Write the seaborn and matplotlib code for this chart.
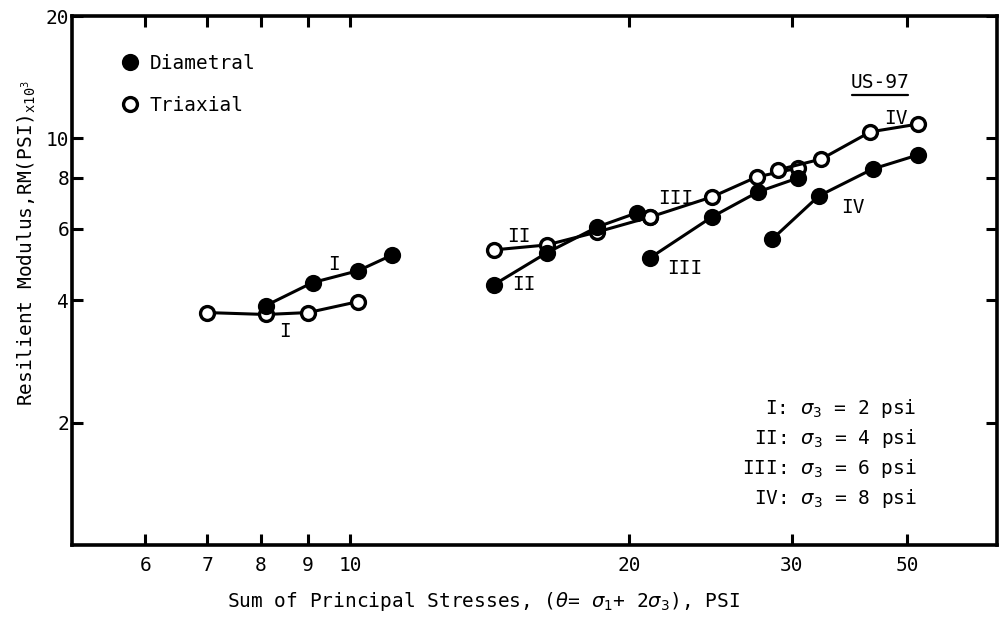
import numpy as np
import pandas as pd
import matplotlib
matplotlib.use("Agg")
import matplotlib.pyplot as plt
from matplotlib.lines import Line2D
from matplotlib.ticker import NullLocator
import seaborn as sns

# ---- data ----
diam_I_x = [8.1, 9.1, 10.2, 11.1]
diam_I_y = [3.88, 4.42, 4.73, 5.17]
tri_I_x = [7.0, 8.1, 9.0, 10.2]
tri_I_y = [3.73, 3.69, 3.73, 3.97]

diam_II_x = [14.3, 16.3, 18.5, 20.4]
diam_II_y = [4.37, 5.23, 6.06, 6.56]
tri_II_x = [14.3, 16.3, 18.5, 21.1]
tri_II_y = [5.32, 5.47, 5.89, 6.41]

diam_III_x = [21.1, 24.6, 27.6, 30.5]
diam_III_y = [5.09, 6.41, 7.39, 8.00]
tri_III_x = [21.1, 24.6, 27.5, 30.5]
tri_III_y = [6.41, 7.18, 8.04, 8.46]

diam_IV_x = [28.6, 32.1, 36.7, 41.1]
diam_IV_y = [5.66, 7.22, 8.41, 9.11]
tri_IV_x = [29.0, 32.3, 36.5, 41.1]
tri_IV_y = [8.37, 8.90, 10.38, 10.85]

x_ticks = [6, 7, 8, 9, 10, 20, 30, 40]
x_tick_labels = ["6", "7", "8", "9", "10", "20", "30", "50"]
y_ticks = [2, 4, 6, 8, 10, 20]
y_tick_labels = ["2", "4", "6", "8", "10", "20"]

curve_labels = ["I", "I", "II", "II", "III", "III", "IV", "IV"]
curve_label_x = [9.6, 8.5, 15.2, 15.4, 22.5, 23.0, 38.9, 34.9]
curve_label_y = [4.89, 3.35, 5.73, 4.37, 7.1, 4.8, 11.2, 6.75]

stress_lines = [r"I: $\sigma_3$ = 2 psi", r"II: $\sigma_3$ = 4 psi",
                r"III: $\sigma_3$ = 6 psi", r"IV: $\sigma_3$ = 8 psi"]

series = [
    ("Diametral", "I", diam_I_x, diam_I_y),
    ("Triaxial", "I", tri_I_x, tri_I_y),
    ("Diametral", "II", diam_II_x, diam_II_y),
    ("Triaxial", "II", tri_II_x, tri_II_y),
    ("Diametral", "III", diam_III_x, diam_III_y),
    ("Triaxial", "III", tri_III_x, tri_III_y),
    ("Diametral", "IV", diam_IV_x, diam_IV_y),
    ("Triaxial", "IV", tri_IV_x, tri_IV_y),
]
rows = []
for kind, grp, xs, ys in series:
    for xv, yv in zip(xs, ys):
        rows.append({"kind": kind, "group": grp, "x": xv, "y": yv})
df = pd.DataFrame(rows)

# ---- style ----
sns.set_theme(style="ticks")
plt.rcParams["font.family"] = ["DejaVu Sans Mono", "DejaVu Sans"]
plt.rcParams["mathtext.fontset"] = "dejavusans"
plt.rcParams["text.color"] = "black"
plt.rcParams["axes.labelcolor"] = "black"
plt.rcParams["xtick.color"] = "black"
plt.rcParams["ytick.color"] = "black"

fig = plt.figure(figsize=(10.03, 6.23), dpi=100)
ax = fig.add_axes([0.0718, 0.1252, 0.922, 0.849])

face = {"Diametral": "black", "Triaxial": "white"}
for (kind, grp), sub in df.groupby(["kind", "group"], sort=False):
    sns.lineplot(data=sub, x="x", y="y", ax=ax, color="black", lw=2.2,
                 marker="o", markersize=10, markerfacecolor=face[kind],
                 markeredgecolor="black", markeredgewidth=2.4,
                 estimator=None, sort=False, legend=False,
                 zorder=3 if kind == "Diametral" else 2)

ax.set_xscale("log")
ax.set_yscale("log")
ax.set_xlim(5, 50)
ax.set_ylim(1, 20)
ax.set_xticks(x_ticks)
ax.set_xticklabels(x_tick_labels)
ax.set_yticks(y_ticks)
ax.set_yticklabels(y_tick_labels)
ax.xaxis.set_minor_locator(NullLocator())
ax.yaxis.set_minor_locator(NullLocator())
ax.tick_params(which="major", direction="in", length=8, width=2.2,
               top=True, right=True, labeltop=False, labelright=False,
               labelsize=14, colors="black")
ax.tick_params(axis="y", pad=2)
ax.tick_params(axis="x", pad=8)
for s in ax.spines.values():
    s.set_linewidth(2.6)
    s.set_color("black")

ax.set_xlabel(r"Sum of Principal Stresses, ($\theta$= $\sigma_1$+ 2$\sigma_3$), PSI",
              fontsize=14)
ax.xaxis.set_label_coords(0.445, -0.085)
ax.set_ylabel(r"Resilient Modulus,RM(PSI)$_{\mathregular{x10}^{3}}$", fontsize=14)
ax.yaxis.set_label_coords(-0.037, 0.57)

handles = [
    Line2D([], [], ls="none", marker="o", markersize=10, markerfacecolor="black",
           markeredgecolor="black", markeredgewidth=2.4),
    Line2D([], [], ls="none", marker="o", markersize=10, markerfacecolor="white",
           markeredgecolor="black", markeredgewidth=2.4),
]
ax.legend(handles, ["Diametral", "Triaxial"], loc="upper left",
          bbox_to_anchor=(0.052, 0.928), frameon=False, fontsize=14,
          borderaxespad=0, borderpad=0, handlelength=1.0, handletextpad=0.5,
          labelspacing=1.15)

for lab, lx, ly in zip(curve_labels, curve_label_x, curve_label_y):
    ax.text(lx, ly, lab, fontsize=14, ha="center", va="center")

ax.text(0.8735, 0.875, "US-97", transform=ax.transAxes, fontsize=14,
        ha="center", va="center")
ax.plot([0.843, 0.904], [0.851, 0.851], transform=ax.transAxes,
        color="black", lw=1.6)

for i, line in enumerate(stress_lines):
    ax.text(0.9135, 0.258 - i * 0.0565, line, transform=ax.transAxes,
            fontsize=14, ha="right", va="center")

fig.savefig("out.png", dpi=100, facecolor="white")
